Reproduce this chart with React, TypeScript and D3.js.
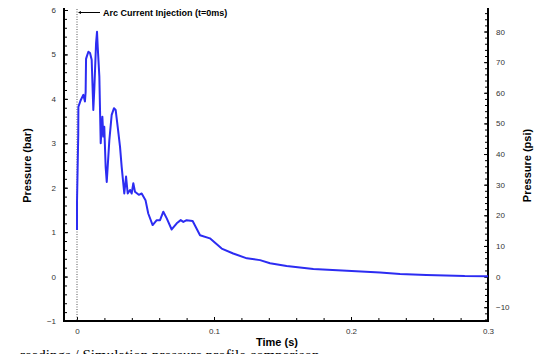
import { useEffect, useRef } from 'react'
import * as d3 from 'd3'

// trace: time (s) and pressure (bar)
const timeS = [
  0, 0, 0.0009, 0.001, 0.0027, 0.0046, 0.0058, 0.0063, 0.0066, 0.0071, 0.0083, 0.0095,
  0.0107, 0.0119, 0.0126, 0.0139, 0.0146, 0.0151, 0.0163, 0.0173, 0.0185, 0.0192, 0.0199,
  0.0209, 0.0217, 0.0236, 0.0253, 0.027, 0.0282, 0.0297, 0.0314, 0.0326, 0.0345, 0.0358,
  0.037, 0.0387, 0.0399, 0.0411, 0.0423, 0.0451, 0.0472, 0.05, 0.052, 0.0552, 0.0582,
  0.0606, 0.063, 0.0655, 0.0691, 0.0728, 0.0757, 0.0776, 0.08, 0.0844, 0.0898, 0.097,
  0.1056, 0.114, 0.124, 0.1336, 0.1409, 0.153, 0.1725, 0.197, 0.2212, 0.2358, 0.255,
  0.283, 0.3,
]
const pressureBar = [
  1.05, 1.69, 3.2, 3.82, 3.97, 4.09, 3.94, 4.16, 4.9, 4.95, 5.06, 5.03,
  4.88, 3.75, 4.2, 5.25, 5.51, 5.18, 4.5, 3.0, 3.6, 3.15, 3.37,
  2.47, 2.13, 3.07, 3.64, 3.79, 3.75, 3.37, 2.92, 2.47, 1.87, 2.25,
  1.87, 1.95, 1.87, 2.1, 1.91, 1.84, 1.87, 1.72, 1.42, 1.16, 1.27,
  1.27, 1.46, 1.31, 1.06, 1.2, 1.27, 1.23, 1.27, 1.25, 0.93, 0.86,
  0.63, 0.52, 0.41, 0.37, 0.3, 0.24, 0.17, 0.13, 0.09, 0.056, 0.034,
  0.011, 0.01,
]

const barTicks = [-1, 0, 1, 2, 3, 4, 5, 6]
const psiTicks = [-10, 0, 10, 20, 30, 40, 50, 60, 70, 80]
const timeTicks = [0, 0.1, 0.2, 0.3]
const PSI_PER_BAR = 14.5038

export default function App() {
  const svgRef = useRef<SVGSVGElement>(null)

  useEffect(() => {
    if (!svgRef.current) return
    const svg = d3.select(svgRef.current)
    svg.selectAll('*').remove()

    const left = 64
    const right = 488
    const top = 10
    const bottom = 321

    const x = d3.scaleLinear().domain([-0.0095, 0.3]).range([left, right])
    const y = d3.scaleLinear().domain([-1, 6]).range([bottom, top])
    const yPsi = d3
      .scaleLinear()
      .domain([-1 * PSI_PER_BAR, 6 * PSI_PER_BAR])
      .range([bottom, top])

    const font = 'Arial, "Liberation Sans", sans-serif'

    // minor ticks
    const minorBar = d3.range(-1, 6.001, 0.2)
    const minorPsi = d3.range(-14, 87, 2)
    const minorTime = d3.range(0, 0.3001, 0.02)

    // left axis
    svg
      .append('g')
      .attr('transform', `translate(${left},0)`)
      .call(d3.axisLeft(y).tickValues(minorBar).tickSize(-3).tickFormat(() => ''))
      .call((g) => g.select('.domain').remove())
    svg
      .append('g')
      .attr('transform', `translate(${left},0)`)
      .call(d3.axisLeft(y).tickValues(barTicks).tickSize(-4).tickPadding(8).tickFormat(d3.format('d')))
      .call((g) => g.select('.domain').remove())
      .call((g) =>
        g.selectAll('text').attr('font-size', 8).attr('font-family', font).attr('fill', '#333')
      )

    // right axis
    svg
      .append('g')
      .attr('transform', `translate(${right},0)`)
      .call(d3.axisRight(yPsi).tickValues(minorPsi).tickSize(-3).tickFormat(() => ''))
      .call((g) => g.select('.domain').remove())
    svg
      .append('g')
      .attr('transform', `translate(${right},0)`)
      .call(d3.axisRight(yPsi).tickValues(psiTicks).tickSize(-4).tickPadding(8).tickFormat(d3.format('d')))
      .call((g) => g.select('.domain').remove())
      .call((g) =>
        g.selectAll('text').attr('font-size', 8).attr('font-family', font).attr('fill', '#333')
      )

    // bottom axis
    svg
      .append('g')
      .attr('transform', `translate(0,${bottom})`)
      .call(d3.axisBottom(x).tickValues(minorTime).tickSize(-3).tickFormat(() => ''))
      .call((g) => g.select('.domain').remove())
    svg
      .append('g')
      .attr('transform', `translate(0,${bottom})`)
      .call(d3.axisBottom(x).tickValues(timeTicks).tickSize(-4).tickPadding(7).tickFormat((d) => String(d)))
      .call((g) => g.select('.domain').remove())
      .call((g) =>
        g.selectAll('text').attr('font-size', 8).attr('font-family', font).attr('fill', '#333')
      )

    // frame lines
    svg.selectAll('.tick line').attr('stroke', '#000')
    svg.append('line').attr('x1', left).attr('x2', left).attr('y1', top - 2).attr('y2', bottom + 1)
      .attr('stroke', '#000').attr('stroke-width', 2)
    svg.append('line').attr('x1', right).attr('x2', right).attr('y1', top - 2).attr('y2', bottom + 1)
      .attr('stroke', '#000').attr('stroke-width', 2)
    svg.append('line').attr('x1', left - 1).attr('x2', right + 1).attr('y1', bottom).attr('y2', bottom)
      .attr('stroke', '#000').attr('stroke-width', 2)

    // t = 0 marker
    svg.append('line')
      .attr('x1', x(0)).attr('x2', x(0)).attr('y1', top - 1).attr('y2', bottom)
      .attr('stroke', '#555').attr('stroke-width', 1).attr('stroke-dasharray', '1,1.5')
    svg.append('line')
      .attr('x1', x(0) + 2).attr('x2', x(0) + 23).attr('y1', 12.5).attr('y2', 12.5)
      .attr('stroke', '#000').attr('stroke-width', 1)
    svg.append('path')
      .attr('d', `M${x(0) + 1},12.5 L${x(0) + 4},11 L${x(0) + 4},14 Z`)
      .attr('fill', '#000')
    svg.append('text')
      .attr('x', x(0) + 26).attr('y', 15.5)
      .attr('font-family', font).attr('font-weight', 'bold').attr('font-size', 9)
      .text('Arc Current Injection (t=0ms)')

    // trace
    const pts = timeS.map((t, i) => [t, pressureBar[i]] as [number, number])
    svg.append('path')
      .datum(pts)
      .attr('fill', 'none')
      .attr('stroke', '#2c2cf2')
      .attr('stroke-width', 2)
      .attr('stroke-linejoin', 'round')
      .attr('d', d3.line<[number, number]>().x((d) => x(d[0])).y((d) => y(d[1])))

    // axis titles
    svg.append('text')
      .attr('transform', `translate(31,${(top + bottom) / 2}) rotate(-90)`)
      .attr('text-anchor', 'middle')
      .attr('font-family', font).attr('font-weight', 'bold').attr('font-size', 11)
      .text('Pressure (bar)')
    svg.append('text')
      .attr('transform', `translate(531,${(top + bottom) / 2}) rotate(-90)`)
      .attr('text-anchor', 'middle')
      .attr('font-family', font).attr('font-weight', 'bold').attr('font-size', 11)
      .text('Pressure (psi)')
    svg.append('text')
      .attr('x', 277).attr('y', 346)
      .attr('text-anchor', 'middle')
      .attr('font-family', font).attr('font-weight', 'bold').attr('font-size', 11)
      .text('Time (s)')

    // caption line, cut off by the bottom edge just as in the reference
    svg.append('text')
      .attr('x', 20).attr('y', 360)
      .attr('font-family', '"Liberation Serif", serif').attr('font-size', 15)
      .attr('fill', '#000')
      .text('readings / Simulation pressure profile comparison')
  }, [])

  return (
    <div style={{ position: 'absolute', left: 0, top: 0 }}>
      <svg ref={svgRef} width={560} height={354} style={{ display: 'block', background: '#fff' }}></svg>
    </div>
  )
}
